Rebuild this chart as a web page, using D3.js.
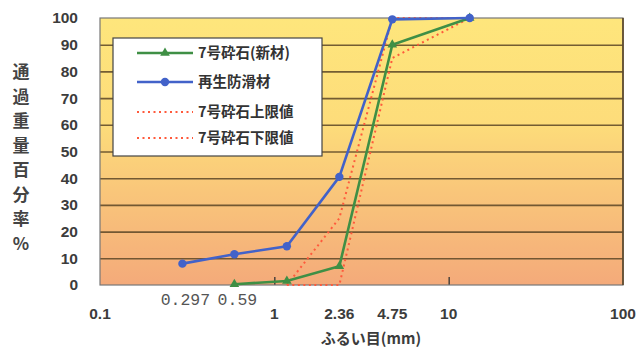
<!DOCTYPE html>
<html><head><meta charset="utf-8">
<script src="https://cdn.jsdelivr.net/npm/d3@7"></script>
<style>
html,body{margin:0;padding:0;background:#fff;}
svg{display:block;}
</style></head>
<body><svg id="c" width="639" height="351"></svg>
<script>
// ---- data ----
const sieves = [0.297, 0.59, 1.18, 2.36, 4.75, 13.2];
const recycled = [8, 11.5, 14.5, 40.5, 99.5, 100];        // 再生防滑材
const newStone = [null, 0.3, 1.5, 7, 90, 100];             // 7号砕石(新材)
const upperLim = [null, null, 0, 25, 100, 100];            // 7号砕石上限値
const lowerLim = [null, null, 0, 0, 85, 100];              // 7号砕石下限値
const yTicks = [0,10,20,30,40,50,60,70,80,90,100];
const xMajorTicks = [0.1, 1, 10, 100];
const xMajorLabels = ["0.1","1","10","100"];
const xUpperLabels = [{v:0.297,t:"0.297"},{v:0.59,t:"0.59"}];
const xLowerLabels = [{v:2.36,t:"2.36"},{v:4.75,t:"4.75"}];
const seriesNames = ["7号砕石(新材)","再生防滑材","7号砕石上限値","7号砕石下限値"];
const yTitle = "通過重量百分率%";
const xTitle = "ふるい目(mm)";

const svg = d3.select("#c");
const L=100, R=623, T=18, B=285;
const x = d3.scaleLog().domain([0.1,100]).range([L,R]);
const y = d3.scaleLinear().domain([0,100]).range([B,T]);

// background gradient
const defs = svg.append("defs");
const g = defs.append("linearGradient").attr("id","bg").attr("x1",0).attr("y1",0).attr("x2",0).attr("y2",1);
g.append("stop").attr("offset","0%").attr("stop-color","#fee67c");
g.append("stop").attr("offset","40%").attr("stop-color","#fddc7a");
g.append("stop").attr("offset","65%").attr("stop-color","#f9c67a");
g.append("stop").attr("offset","100%").attr("stop-color","#f4aa7a");
svg.append("rect").attr("x",L).attr("y",T).attr("width",R-L).attr("height",B-T).attr("fill","url(#bg)");

// gridlines
const grid = svg.append("g").attr("transform",`translate(${L},0)`)
  .call(d3.axisLeft(y).tickValues(yTicks.filter(v=>v>0&&v<100)).tickSize(-(R-L)).tickFormat(""));
grid.select(".domain").remove();
grid.selectAll("line").attr("stroke","#5a4526").attr("stroke-width",1.6).attr("opacity",0.85);

// x ticks inside
const xt = svg.append("g").attr("transform",`translate(0,${B})`)
  .call(d3.axisTop(x).tickValues([1,10]).tickSize(8).tickFormat(""));
xt.select(".domain").remove();
xt.selectAll("line").attr("stroke","#333").attr("stroke-width",1.3);

// border
svg.append("rect").attr("x",L).attr("y",T).attr("width",R-L).attr("height",B-T)
  .attr("fill","none").attr("stroke","#777").attr("stroke-width",1.2);
svg.append("line").attr("x1",R).attr("x2",R).attr("y1",T).attr("y2",B).attr("stroke","#5a4526").attr("stroke-width",1.6);

// y axis labels
const font = "Liberation Sans, Arial, sans-serif";
const ya = svg.append("g").attr("transform",`translate(${L-22},0)`)
  .call(d3.axisLeft(y).tickValues(yTicks).tickSize(0).tickPadding(0));
ya.select(".domain").remove();
ya.selectAll("text").attr("font-family",font).attr("font-size",15.5)
  .attr("font-weight","bold").attr("fill","#3c3c3c").attr("text-anchor","end");

// x labels
svg.append("g").selectAll("text").data(xMajorTicks).join("text")
  .attr("x",d=>x(d)).attr("y",319).attr("text-anchor","middle")
  .attr("font-family",font).attr("font-size",15.5).attr("font-weight","bold").attr("fill","#3c3c3c")
  .text((d,i)=>xMajorLabels[i]);
svg.append("g").selectAll("text").data(xLowerLabels).join("text")
  .attr("x",d=>x(d.v)).attr("y",319).attr("text-anchor","middle")
  .attr("font-family",font).attr("font-size",15.5).attr("font-weight","bold").attr("fill","#3c3c3c")
  .text(d=>d.t);
svg.append("g").selectAll("text").data(xUpperLabels).join("text")
  .attr("x",d=>x(d.v)+3).attr("y",305).attr("text-anchor","middle")
  .attr("font-family","Liberation Mono, DejaVu Sans Mono, monospace").attr("font-size",16.5).attr("fill","#555")
  .text(d=>d.t);
svg.append("text").attr("x",371).attr("y",344).attr("text-anchor","middle")
  .attr("font-family","Noto Sans CJK JP").attr("font-size",15).attr("font-weight","bold").attr("fill","#3c3c3c")
  .text(xTitle);

// y title vertical
const yt = svg.append("text").attr("font-family","Noto Sans CJK JP").attr("font-size",17).attr("font-weight","bold").attr("fill","#444");
Array.from(yTitle).forEach((ch,i)=>{
  yt.append("tspan").attr("x",21).attr("y",78+i*24.5).attr("text-anchor","middle").text(ch);
});

// series
function pts(vals){ return sieves.map((s,i)=>[s,vals[i]]).filter(p=>p[1]!==null); }
const line = d3.line().x(d=>x(d[0])).y(d=>y(d[1]));
const blue="#4262c9", green="#3f8f45", red="#ff5a3c";

svg.append("path").datum(pts(upperLim)).attr("d",line).attr("fill","none")
  .attr("stroke",red).attr("stroke-width",2).attr("stroke-dasharray","2,3.5");
svg.append("path").datum(pts(lowerLim)).attr("d",line).attr("fill","none")
  .attr("stroke",red).attr("stroke-width",2).attr("stroke-dasharray","2,3.5");
svg.append("path").datum(pts(newStone)).attr("d",line).attr("fill","none")
  .attr("stroke",green).attr("stroke-width",2.6);
svg.append("path").datum(pts(recycled)).attr("d",line).attr("fill","none")
  .attr("stroke",blue).attr("stroke-width",2.6);
const tri = d3.symbol().type(d3.symbolTriangle).size(40);
svg.append("g").selectAll("path").data(pts(newStone)).join("path")
  .attr("d",tri).attr("transform",d=>`translate(${x(d[0])},${y(d[1])})`).attr("fill",green);
svg.append("g").selectAll("circle").data(pts(recycled)).join("circle")
  .attr("cx",d=>x(d[0])).attr("cy",d=>y(d[1])).attr("r",4.2).attr("fill",blue);

// legend
const lg = svg.append("g");
lg.append("rect").attr("x",113).attr("y",38).attr("width",209).attr("height",118)
  .attr("fill","#fff").attr("stroke","#444").attr("stroke-width",1.2);
const rows=[53,82,112,138];
const styles=[
  {c:green,w:2.6,d:null,m:"tri"},
  {c:blue,w:2.6,d:null,m:"circ"},
  {c:red,w:2,d:"2,3.5",m:null},
  {c:red,w:2,d:"2,3.5",m:null}];
seriesNames.forEach((n,i)=>{
  const s=styles[i];
  const ln=lg.append("line").attr("x1",137).attr("x2",193).attr("y1",rows[i]).attr("y2",rows[i])
    .attr("stroke",s.c).attr("stroke-width",s.w);
  if(s.d) ln.attr("stroke-dasharray",s.d);
  if(s.m==="tri") lg.append("path").attr("d",tri).attr("transform",`translate(165,${rows[i]})`).attr("fill",s.c);
  if(s.m==="circ") lg.append("circle").attr("cx",165).attr("cy",rows[i]).attr("r",4.2).attr("fill",s.c);
  lg.append("text").attr("x",198).attr("y",rows[i]+5).attr("font-family","Noto Sans CJK JP")
    .attr("font-size",14.5).attr("font-weight","bold").attr("fill","#333").text(n);
});
</script></body></html>
